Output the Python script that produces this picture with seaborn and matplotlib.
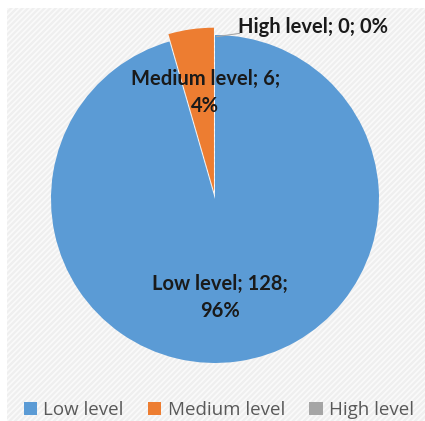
import matplotlib
matplotlib.use("Agg")
import matplotlib.pyplot as plt
import seaborn as sns
from matplotlib.patches import Rectangle
import numpy as np

categories = ["Low level", "Medium level", "High level"]
values = [128, 6, 0]
percents = ["96%", "4%", "0%"]
colors = ["#5B9BD5", "#ED7D31", "#A5A5A5"]

sns.set_theme(style="white")
plt.rcParams["hatch.linewidth"] = 1.2

W, H = 425, 421
fig = plt.figure(figsize=(W / 100, H / 100), dpi=100)
fig.patch.set_facecolor("white")

bg = Rectangle((7 / W, 0), (W - 7) / W, (H - 8) / H, transform=fig.transFigure,
               facecolor="#efefef", edgecolor="#fafafa", hatch="//////", lw=0, zorder=-5)
fig.patches.append(bg)

cx, cy, r = 215, 199, 164
ax = fig.add_axes([(cx - r) / W, (H - cy - r) / H, 2 * r / W, 2 * r / H])
ax.set_facecolor("none")
ax.set_zorder(2)

wedges, _ = ax.pie(values, colors=colors, startangle=90, counterclock=False,
                   explode=[0, 0.045, 0], radius=1,
                   wedgeprops=dict(linewidth=0))
for w in wedges:
    w.set_clip_on(False)
ax.set_xlim(-1, 1)
ax.set_ylim(-1, 1)
ax.set_aspect("equal")
ax.axis("off")

lab_font = dict(family=["Lato", "DejaVu Sans"], fontsize=14.5, fontweight="bold",
                color="#1a1a1a", ha="center", va="center", linespacing=1.4)
ax.text(0.03, -0.6, f"{categories[0]}; {values[0]};\n{percents[0]}", **lab_font)
ax.text(-0.06, 0.65, f"{categories[1]}; {values[1]};\n{percents[1]}", **lab_font)
ax.text(0.6, 1.05, f"{categories[2]}; {values[2]}; {percents[2]}", **lab_font)
ax.plot([0.01, 0.15], [0.99, 1.01], color="#a6a6a6", lw=0.8, clip_on=False)

handles = [Rectangle((0, 0), 1, 1, facecolor=c, edgecolor="none") for c in colors]
leg = fig.legend(handles, categories, loc="center", bbox_to_anchor=(0.515, 1 - 410 / H),
                 ncol=3, frameon=False, handlelength=0.7, handleheight=0.7,
                 handletextpad=0.35, columnspacing=1.3,
                 prop=dict(family=["Open Sans", "DejaVu Sans"], size=13.5))
for t in leg.get_texts():
    t.set_color("#595959")

fig.savefig("out.png", dpi=100)
